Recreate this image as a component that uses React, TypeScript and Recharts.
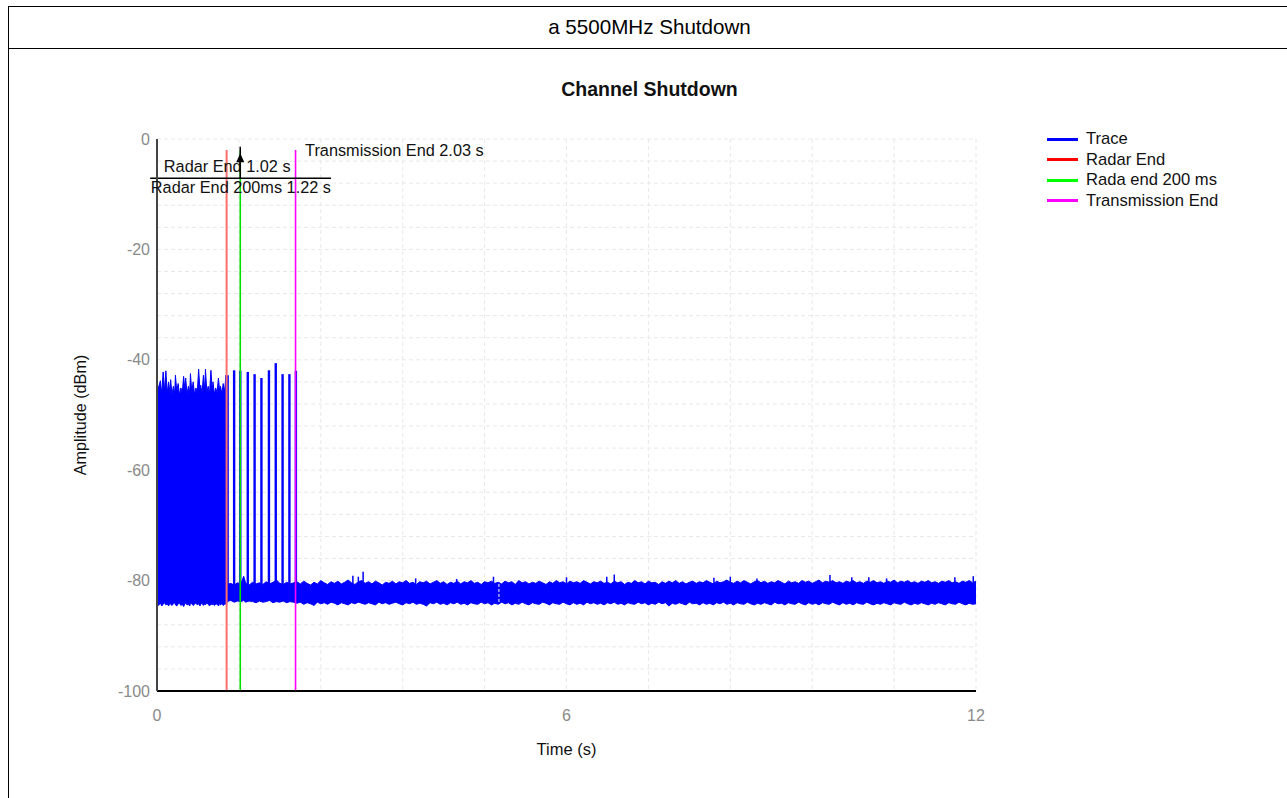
import React from 'react';
import {
  ComposedChart,
  Area,
  XAxis,
  YAxis,
  CartesianGrid,
  ReferenceLine,
  ReferenceDot,
} from 'recharts';

const FONT = '"Liberation Sans", Arial, sans-serif';

// Axis ticks and grid
const X_DOMAIN: [number, number] = [0, 12];
const Y_DOMAIN: [number, number] = [-100, 0];
const X_TICKS = [0, 6, 12];
const Y_TICKS = [0, -20, -40, -60, -80, -100];
const X_GRID = [0, 1.2, 2.4, 3.6, 4.8, 6, 7.2, 8.4, 9.6, 10.8, 12];
const Y_GRID = [0, -4, -8, -12, -16, -20, -24, -28, -32, -36, -40, -44, -48, -52, -56, -60, -64, -68, -72, -76, -80, -84, -88, -92, -96];

// Trace envelope: [time s, upper dBm, lower dBm]
// radar burst period 0 .. 1.02 s
const BURST: [number, number, number][] = [
  [0.0, -46.0, -84.2], [0.02, -45.1, -84.5], [0.05, -43.8, -84.1], [0.07, -46.2, -84.6],
  [0.09, -42.2, -84.3], [0.11, -45.6, -84.0], [0.13, -42.0, -84.4], [0.15, -46.0, -84.2],
  [0.17, -44.0, -84.6], [0.19, -45.9, -84.1], [0.2, -43.6, -84.3], [0.22, -46.3, -84.5],
  [0.24, -44.8, -84.2], [0.26, -46.1, -84.0], [0.27, -42.8, -84.4], [0.29, -45.7, -84.6],
  [0.31, -44.3, -84.2], [0.33, -46.4, -84.1], [0.35, -45.1, -84.5], [0.37, -46.0, -84.3],
  [0.39, -43.0, -84.7], [0.41, -45.5, -84.2], [0.42, -43.3, -84.0], [0.44, -46.2, -84.4],
  [0.46, -44.8, -84.3], [0.48, -45.9, -84.6], [0.49, -42.5, -84.1], [0.51, -45.8, -84.2],
  [0.53, -44.0, -84.5], [0.55, -46.3, -84.3], [0.57, -45.1, -84.0], [0.59, -46.0, -84.4],
  [0.61, -41.7, -84.2], [0.63, -45.6, -84.6], [0.64, -44.6, -84.3], [0.66, -46.1, -84.1],
  [0.68, -42.8, -84.5], [0.7, -45.4, -84.2], [0.71, -41.7, -84.4], [0.73, -45.8, -84.0],
  [0.75, -44.8, -84.3], [0.77, -46.0, -84.6], [0.79, -41.9, -84.2], [0.81, -45.7, -84.4],
  [0.82, -44.0, -84.1], [0.84, -46.2, -84.5], [0.86, -45.1, -84.3], [0.88, -46.0, -84.2],
  [0.9, -43.3, -84.6], [0.92, -45.9, -84.1], [0.93, -44.8, -84.4], [0.95, -46.1, -84.2],
  [0.97, -44.3, -84.5], [0.99, -45.8, -84.3], [1.01, -42.8, -84.2], [1.02, -44.5, -84.4],
];

// noise floor after the radar burst 1.025 .. 12 s
const FLOOR: [number, number, number][] = [
  [1.025, -80.7, -83.8], [1.08, -80.5, -83.6], [1.13, -80.8, -83.9], [1.18, -80.4, -83.7],
  [1.23, -80.6, -83.8], [1.27, -79.2, -83.6], [1.3, -80.5, -83.9], [1.35, -80.8, -83.7],
  [1.4, -80.3, -83.8], [1.45, -80.6, -84.0], [1.5, -80.4, -83.7], [1.55, -80.7, -83.9],
  [1.6, -80.2, -83.8], [1.65, -80.6, -83.6], [1.7, -80.3, -84.0], [1.75, -79.9, -83.8],
  [1.8, -80.5, -83.9], [1.85, -80.7, -83.7], [1.9, -80.3, -84.0], [1.95, -80.6, -83.8],
  [2.0, -80.4, -83.9],
  [2.05, -80.2, -84.1], [2.1, -80.6, -83.9], [2.15, -80.1, -84.3], [2.2, -80.5, -84.0],
  [2.25, -80.8, -84.2], [2.3, -80.3, -84.5], [2.35, -80.6, -83.9], [2.4, -80.0, -84.2],
  [2.45, -80.4, -84.0], [2.5, -80.7, -84.3], [2.55, -80.2, -83.9], [2.6, -80.5, -84.1],
  [2.65, -80.1, -84.4], [2.7, -80.6, -84.0], [2.75, -80.3, -84.2], [2.8, -79.9, -84.4],
  [2.85, -80.4, -84.0], [2.9, -80.7, -84.2], [2.95, -80.2, -83.9], [3.0, -80.0, -84.1],
  [3.05, -80.5, -84.3], [3.1, -80.2, -84.0], [3.15, -80.6, -84.2], [3.2, -80.1, -84.4],
  [3.25, -80.4, -83.9], [3.3, -80.8, -84.2], [3.35, -80.3, -84.0], [3.4, -80.5, -84.3],
  [3.45, -80.1, -84.1], [3.5, -80.6, -83.9], [3.55, -80.2, -84.2], [3.6, -80.4, -84.4],
  [3.65, -80.0, -84.0], [3.7, -80.5, -84.2], [3.75, -80.3, -83.9], [3.8, -80.7, -84.3],
  [3.85, -80.2, -84.1], [3.9, -80.4, -84.3], [3.95, -80.1, -84.6], [4.0, -80.6, -84.0],
  [4.05, -80.3, -84.2], [4.1, -80.0, -83.9], [4.15, -80.5, -84.3], [4.2, -80.2, -84.1],
  [4.25, -80.7, -84.4], [4.3, -80.3, -84.0], [4.35, -80.5, -84.2], [4.4, -80.1, -83.9],
  [4.45, -80.6, -84.3], [4.5, -80.2, -84.1], [4.55, -80.4, -84.4], [4.6, -80.0, -84.0],
  [4.65, -80.5, -84.2], [4.7, -80.3, -84.3], [4.75, -80.7, -83.9], [4.8, -80.2, -84.2],
  [4.85, -80.4, -84.0], [4.9, -80.1, -84.4], [4.95, -80.5, -84.1], [5.0, -80.3, -84.3],
  [5.05, -80.6, -83.9], [5.1, -80.1, -84.2], [5.15, -80.4, -84.0], [5.2, -80.2, -84.4],
  [5.25, -80.7, -84.1], [5.3, -80.0, -84.3], [5.35, -80.4, -83.9], [5.4, -80.2, -84.2],
  [5.45, -80.6, -84.4], [5.5, -80.3, -84.0], [5.55, -80.5, -84.2], [5.6, -80.1, -84.3],
  [5.65, -80.4, -83.9], [5.7, -80.7, -84.1], [5.75, -80.2, -84.4], [5.8, -80.5, -84.0],
  [5.85, -80.0, -84.2], [5.9, -80.4, -84.3], [5.95, -80.2, -83.9], [6.0, -80.6, -84.2],
  [6.05, -80.1, -84.4], [6.1, -80.4, -84.0], [6.15, -80.2, -84.3], [6.2, -80.5, -84.1],
  [6.25, -80.0, -84.4], [6.3, -80.3, -83.9], [6.35, -80.6, -84.2], [6.4, -80.2, -84.0],
  [6.45, -80.4, -84.3], [6.5, -80.1, -84.1], [6.55, -80.5, -84.4], [6.6, -80.3, -84.0],
  [6.65, -80.6, -84.2], [6.7, -80.1, -83.9], [6.75, -80.4, -84.3], [6.8, -80.2, -84.1],
  [6.85, -80.7, -84.4], [6.9, -80.3, -84.0], [6.95, -80.5, -84.2], [7.0, -80.0, -84.3],
  [7.05, -80.4, -83.9], [7.1, -80.2, -84.2], [7.15, -80.6, -84.0], [7.2, -80.1, -84.4],
  [7.25, -80.4, -84.1], [7.3, -80.3, -84.3], [7.35, -80.7, -83.9], [7.4, -80.2, -84.2],
  [7.45, -80.5, -84.0], [7.5, -80.1, -84.6], [7.55, -80.4, -84.1], [7.6, -80.0, -84.3],
  [7.65, -80.5, -84.0], [7.7, -80.2, -84.2], [7.75, -80.6, -84.4], [7.8, -80.3, -83.9],
  [7.85, -80.1, -84.2], [7.9, -80.5, -84.1], [7.95, -80.2, -84.4], [8.0, -80.4, -84.0],
  [8.05, -80.0, -84.3], [8.1, -80.3, -84.1], [8.15, -80.6, -84.4], [8.2, -80.1, -84.0],
  [8.25, -80.4, -84.2], [8.3, -80.2, -83.9], [8.35, -79.9, -84.3], [8.4, -80.3, -84.1],
  [8.45, -80.5, -84.4], [8.5, -80.1, -84.0], [8.55, -80.4, -84.2], [8.6, -80.0, -84.3],
  [8.65, -80.3, -83.9], [8.7, -80.6, -84.2], [8.75, -80.2, -84.4], [8.8, -80.0, -84.1],
  [8.85, -80.4, -84.3], [8.9, -80.1, -84.0], [8.95, -80.5, -84.2], [9.0, -80.2, -84.4],
  [9.05, -80.4, -83.9], [9.1, -80.0, -84.2], [9.15, -80.3, -84.1], [9.2, -80.6, -84.4],
  [9.25, -80.1, -84.0], [9.3, -80.4, -84.2], [9.35, -80.2, -84.3], [9.4, -80.5, -83.9],
  [9.45, -80.0, -84.2], [9.5, -80.3, -84.4], [9.55, -80.1, -84.0], [9.6, -80.5, -84.3],
  [9.65, -80.2, -84.1], [9.7, -79.9, -84.4], [9.75, -80.4, -84.0], [9.8, -80.1, -84.2],
  [9.85, -80.3, -84.3], [9.9, -80.0, -83.9], [9.95, -80.4, -84.2], [10.0, -80.2, -84.4],
  [10.05, -80.5, -84.0], [10.1, -80.1, -84.3], [10.15, -80.3, -84.1], [10.2, -80.0, -84.4],
  [10.25, -80.4, -84.0], [10.3, -80.2, -84.2], [10.35, -80.5, -84.3], [10.4, -80.1, -83.9],
  [10.45, -80.3, -84.2], [10.5, -80.0, -84.4], [10.55, -80.4, -84.1], [10.6, -80.2, -84.3],
  [10.65, -80.5, -84.0], [10.7, -80.1, -84.2], [10.75, -80.3, -84.4], [10.8, -79.9, -84.0],
  [10.85, -80.4, -84.2], [10.9, -80.1, -84.3], [10.95, -80.3, -83.9], [11.0, -80.0, -84.2],
  [11.05, -80.4, -84.4], [11.1, -80.2, -84.1], [11.15, -80.5, -84.3], [11.2, -80.1, -84.0],
  [11.25, -80.3, -84.2], [11.3, -80.0, -84.4], [11.35, -80.4, -84.1], [11.4, -80.2, -84.3],
  [11.45, -80.5, -84.0], [11.5, -80.1, -84.2], [11.55, -80.3, -84.4], [11.6, -80.0, -84.0],
  [11.65, -80.4, -84.2], [11.7, -80.2, -84.3], [11.75, -80.5, -83.9], [11.8, -80.1, -84.2],
  [11.85, -80.3, -84.4], [11.9, -80.0, -84.1], [11.95, -80.4, -84.3], [12.0, -80.1, -84.2],
];

// narrow radar pulses between radar end and transmission end: [time s, peak dBm]
const PULSES: [number, number][] = [
  [1.035, -42.8], [1.13, -41.9], [1.22, -42.0], [1.33, -42.2], [1.43, -42.6], [1.53, -43.3],
  [1.64, -41.9], [1.74, -40.6], [1.84, -42.6], [1.94, -42.6], [2.035, -42.0],
];
const PULSE_BASE = -81;

// small noise spikes on the floor: [time s, peak dBm]
const FLOOR_SPIKES: [number, number][] = [
  [2.87, -79.1], [2.95, -79.3], [3.02, -78.4], [3.79, -79.6], [4.39, -79.7], [4.93, -79.3],
  [6.0, -79.4], [6.59, -79.3], [6.7, -78.9], [8.16, -79.5], [8.4, -79.3], [8.79, -79.6],
  [9.86, -79.0], [10.18, -79.4], [10.43, -79.4], [10.69, -79.6], [11.69, -79.4], [11.96, -79.2],
];
const SPIKE_BASE = -80.6;

// marker lines
const MARKER_TOP = -2;
const MARKERS = [
  { name: 'Radar End', t: 1.02, color: '#ff6e6e', width: 2 },
  { name: 'Rada end 200 ms', t: 1.22, color: '#00e000', width: 1.6 },
  { name: 'Transmission End', t: 2.03, color: '#ff00ff', width: 1.6 },
];

// annotation texts: left edge time, centre dBm
const ANNOTATIONS = [
  { text: 'Transmission End 2.03 s', t: 2.17, y: -2.0 },
  { text: 'Radar End 1.02 s', t: 0.1, y: -4.9 },
  { text: 'Radar End 200ms 1.22 s', t: -0.09, y: -8.7 },
];
const ANNOT_LINE = { t0: -0.1, t1: 2.55, y: -7.1 };
const ARROW = { t: 1.22, from: -7.1, tip: -2.6 };

const LEGEND = [
  { name: 'Trace', color: '#0000ff' },
  { name: 'Radar End', color: '#ff0000' },
  { name: 'Rada end 200 ms', color: '#00ff00' },
  { name: 'Transmission End', color: '#ff00ff' },
];

const TRACE = [...BURST, ...FLOOR].map(([t, hi, lo]) => ({ t, hi, lo }));

const ArrowHead = (p: any) => (
  <path d={`M${p.cx},${p.cy} L${p.cx - 4},${p.cy + 9} L${p.cx + 4},${p.cy + 9} Z`} fill="#000" />
);

// map a value through an axis scale (function or scale object), falling back to the plot box
const applyScale = (axis: any, v: number, fallback: () => number) => {
  const s = axis?.scale;
  if (typeof s === 'function') return s(v);
  if (s && typeof s.map === 'function') return s.map(v);
  return fallback();
};
const hGrid = (props: any) => {
  const o = props?.offset ?? {};
  return Y_GRID.map((v) =>
    applyScale(props?.yAxis, v, () => o.top + ((Y_DOMAIN[1] - v) / (Y_DOMAIN[1] - Y_DOMAIN[0])) * o.height),
  );
};
const vGrid = (props: any) => {
  const o = props?.offset ?? {};
  return X_GRID.map((v) =>
    applyScale(props?.xAxis, v, () => o.left + ((v - X_DOMAIN[0]) / (X_DOMAIN[1] - X_DOMAIN[0])) * o.width),
  );
};

export default function App() {
  return (
    <div
      style={{
        position: 'absolute',
        left: 0,
        top: 0,
        width: 1287,
        height: 798,
        background: '#fff',
        overflow: 'hidden',
        fontFamily: FONT,
      }}
    >
      {/* header table */}
      <div style={{ position: 'absolute', left: 8, top: 6, width: 1290, height: 1, background: '#000' }} />
      <div style={{ position: 'absolute', left: 8, top: 48, width: 1290, height: 1, background: '#000' }} />
      <div style={{ position: 'absolute', left: 8, top: 6, width: 1, height: 800, background: '#000' }} />
      <div
        style={{
          position: 'absolute',
          left: 0,
          top: 15,
          width: 1299,
          textAlign: 'center',
          fontSize: 20.6,
          lineHeight: '24px',
          color: '#000',
        }}
      >
        a 5500MHz Shutdown
      </div>

      {/* chart title */}
      <div
        style={{
          position: 'absolute',
          left: 0,
          top: 78,
          width: 1299,
          textAlign: 'center',
          fontSize: 19.5,
          fontWeight: 'bold',
          lineHeight: '22px',
          color: '#111',
        }}
      >
        Channel Shutdown
      </div>

      <div style={{ position: 'absolute', left: 0, top: 0 }}>
        <ComposedChart
          width={1287}
          height={798}
          data={TRACE}
          margin={{ top: 139, right: 311, bottom: 77, left: 77 }}
          style={{ fontFamily: FONT }}
        >
          <CartesianGrid
            stroke="#e8e8e8"
            strokeDasharray="4 3"
            horizontalCoordinatesGenerator={hGrid}
            verticalCoordinatesGenerator={vGrid}
          />
          <XAxis
            dataKey="t"
            type="number"
            domain={X_DOMAIN}
            ticks={X_TICKS}
            allowDataOverflow
            tickLine={false}
            tickSize={6}
            tickMargin={13}
            height={30}
            axisLine={{ stroke: '#000', strokeWidth: 2 }}
            tick={{ fill: '#8a8a8a', fontSize: 16 }}
            label={{ value: 'Time (s)', position: 'bottom', offset: 22, fill: '#111', fontSize: 16.5 }}
          />
          <YAxis
            type="number"
            domain={Y_DOMAIN}
            ticks={Y_TICKS}
            allowDataOverflow
            tickLine={false}
            tickSize={0}
            tickMargin={7}
            width={80}
            axisLine={{ stroke: '#444', strokeWidth: 2 }}
            tick={{ fill: '#8a8a8a', fontSize: 16 }}
            label={{
              value: 'Amplitude (dBm)',
              angle: -90,
              position: 'insideLeft',
              offset: 3,
              fill: '#111',
              fontSize: 16.2,
              style: { textAnchor: 'middle' },
            }}
          />
          <Area
            type="linear"
            dataKey={(d: any) => [d.lo, d.hi]}
            name="Trace"
            stroke="#0000ff"
            strokeWidth={1}
            fill="#0000ff"
            fillOpacity={1}
            dot={false}
            activeDot={false}
            isAnimationActive={false}
          />
          {PULSES.map(([t, v], i) => (
            <ReferenceLine
              key={'p' + i}
              segment={[{ x: t, y: PULSE_BASE }, { x: t, y: v }]}
              stroke="#0000ff"
              strokeWidth={2.4}
            />
          ))}
          {FLOOR_SPIKES.map(([t, v], i) => (
            <ReferenceLine
              key={'s' + i}
              segment={[{ x: t, y: SPIKE_BASE }, { x: t, y: v }]}
              stroke="#0000ff"
              strokeWidth={1.5}
            />
          ))}
          <ReferenceLine
            segment={[{ x: 5.01, y: -80.6 }, { x: 5.01, y: -83.9 }]}
            stroke="#ffffff"
            strokeWidth={1}
            strokeDasharray="3 2"
          />
          {MARKERS.map((m) => (
            <ReferenceLine
              key={m.name}
              segment={[{ x: m.t, y: MARKER_TOP }, { x: m.t, y: -100 }]}
              stroke={m.color}
              strokeWidth={m.width}
            />
          ))}
          <ReferenceLine
            segment={[{ x: ANNOT_LINE.t0, y: ANNOT_LINE.y }, { x: ANNOT_LINE.t1, y: ANNOT_LINE.y }]}
            stroke="#000"
            strokeWidth={1.5}
            ifOverflow="visible"
          />
          <ReferenceLine
            segment={[{ x: ARROW.t, y: ARROW.from }, { x: ARROW.t, y: ARROW.tip + 1.2 }]}
            stroke="#000"
            strokeWidth={1.5}
          />
          <ReferenceDot x={ARROW.t} y={ARROW.tip} r={4} shape={ArrowHead} ifOverflow="visible" />
          {ANNOTATIONS.map((a) => (
            <ReferenceDot
              key={a.text}
              x={a.t}
              y={a.y}
              r={1}
              fill="none"
              stroke="none"
              ifOverflow="visible"
              label={{ value: a.text, position: 'right', offset: -1, fill: '#111', fontSize: 16.3 }}
            />
          ))}
        </ComposedChart>
      </div>

      {/* legend */}
      <div style={{ position: 'absolute', left: 1047, top: 129 }}>
        {LEGEND.map((l) => (
          <div key={l.name} style={{ display: 'flex', alignItems: 'center', height: 20.5 }}>
            <div style={{ width: 31, height: 3, background: l.color }} />
            <div style={{ marginLeft: 8, fontSize: 16.6, lineHeight: '20px', color: '#111', whiteSpace: 'nowrap' }}>
              {l.name}
            </div>
          </div>
        ))}
      </div>
    </div>
  );
}
